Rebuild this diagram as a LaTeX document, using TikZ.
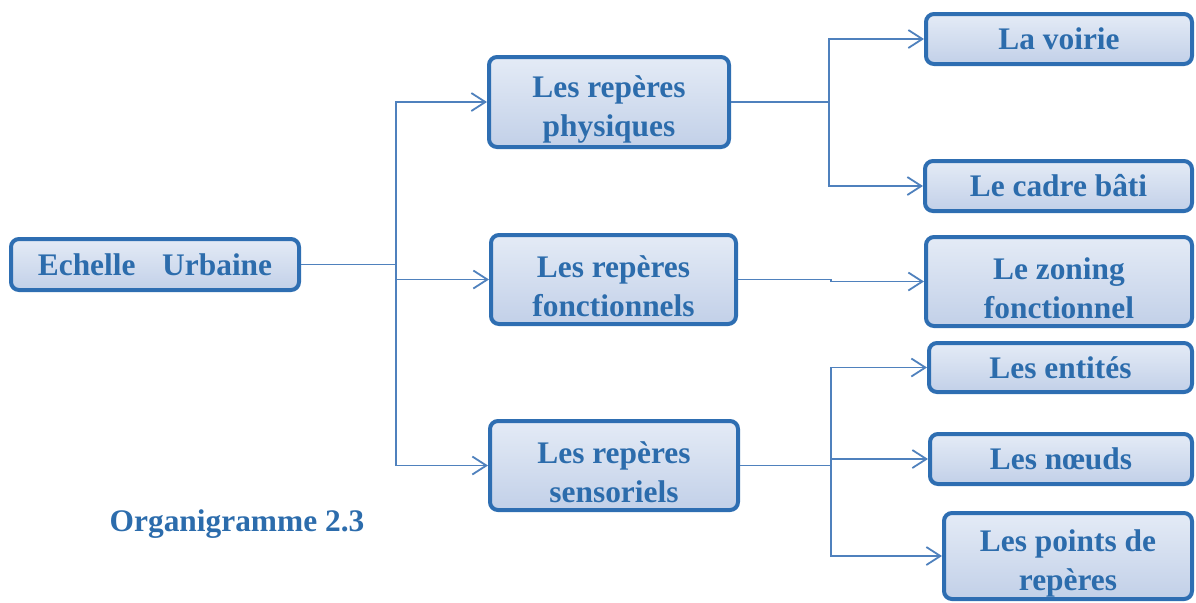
\documentclass[tikz,border=0pt]{standalone}
\usepackage{fontspec}
\setmainfont{Liberation Serif}
\usetikzlibrary{arrows.meta}
\definecolor{bord}{RGB}{46,110,178}
\definecolor{texte}{RGB}{44,108,172}
\definecolor{trait}{RGB}{79,129,189}
\definecolor{fondhaut}{RGB}{228,235,246}
\definecolor{fondbas}{RGB}{194,208,232}
\newcommand{\lbl}[1]{\fontsize{15.7}{19.5}\selectfont\bfseries #1}
\newcommand{\haut}{\rule{0pt}{18pt}}

\begin{document}
\begin{tikzpicture}[x=0.5pt,y=-0.5pt]
	\tikzset{bloc/.style={draw=bord,line width=2pt,rounded corners=4pt,
		top color=fondhaut,bottom color=fondbas,text=texte,align=center,
		inner sep=0pt,font=\lbl}}
	\tikzset{fleche/.style={draw=trait,line width=0.9pt,-{Straight Barb[length=7pt,width=9pt]}}}
	\useasboundingbox (0,0) rectangle (1196,602);
	% premier niveau
	\node[bloc,minimum width=144pt,minimum height=25.5pt] (echelle) at (155,264.5) {Echelle\hspace{0.85em}Urbaine};
	\node[bloc,minimum width=120pt,minimum height=45pt] (phys) at (609,102) {\haut Les repères\\physiques};
	\node[bloc,minimum width=122.5pt,minimum height=44.5pt] (fonc) at (613.5,279.5) {\haut Les repères\\fonctionnels};
	\node[bloc,minimum width=124pt,minimum height=44.5pt] (sens) at (614,465.5) {\haut Les repères\\sensoriels};
	% second niveau
	\node[bloc,minimum width=133pt,minimum height=25pt] (voirie) at (1059,39) {La voirie};
	\node[bloc,minimum width=133.5pt,minimum height=25pt] (cadre) at (1058.5,186) {Le cadre bâti};
	\node[bloc,minimum width=133pt,minimum height=44.5pt] (zoning) at (1059,281.5) {\haut Le zoning\\fonctionnel};
	\node[bloc,minimum width=131.5pt,minimum height=24.5pt] (entites) at (1060.5,367.5) {Les entités};
	\node[bloc,minimum width=131pt,minimum height=25pt] (noeuds) at (1061,459) {Les nœuds};
	\node[bloc,minimum width=124pt,minimum height=43pt] (points) at (1068,556) {\haut Les points de\\repères};
	\node[text=texte,font=\lbl] (titre) at (237,524) {Organigramme 2.3};
	% liaisons
	\draw[fleche] (echelle.east) -- ++(95,0) |- (phys.west);
	\draw[fleche] (echelle.east) -- ++(95,0) |- (fonc.west);
	\draw[fleche] (echelle.east) -- ++(95,0) |- (sens.west);
	\draw[fleche] (phys.east) -- ++(98,0) |- (voirie.west);
	\draw[fleche] (phys.east) -- ++(98,0) |- (cadre.west);
	\draw[fleche] (fonc.east) -- ++(93,0) |- (zoning.west);
	\draw[fleche] (sens.east) -- ++(91,0) |- (entites.west);
	\draw[fleche] (sens.east) -- ++(91,0) |- (noeuds.west);
	\draw[fleche] (sens.east) -- ++(91,0) |- (points.west);
\end{tikzpicture}
\end{document}
